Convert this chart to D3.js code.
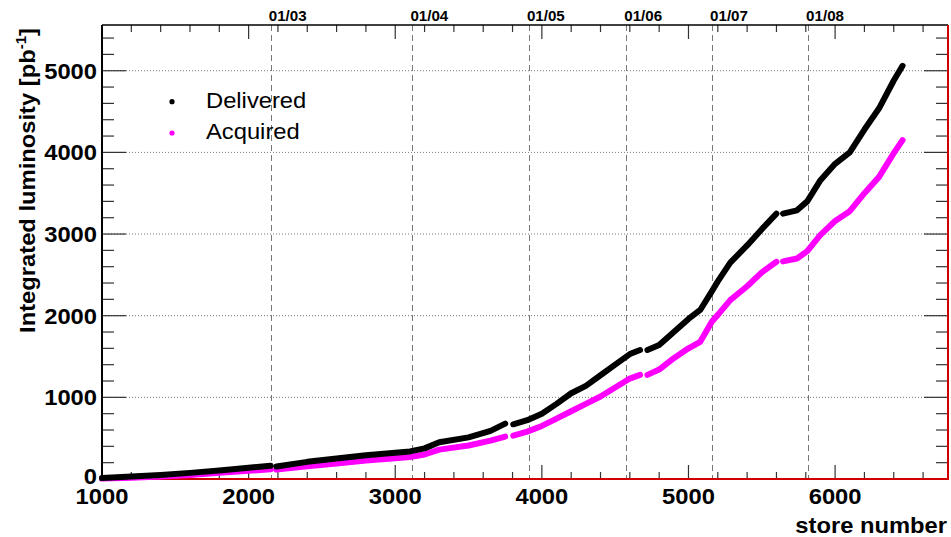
<!DOCTYPE html>
<html><head><meta charset="utf-8">
<script src="https://cdn.jsdelivr.net/npm/d3@7"></script>
<style>html,body{margin:0;padding:0;background:#fff;}svg{display:block;}</style>
</head><body>
<svg id="c" width="951" height="537"></svg>
<script>
// ---- data ----
const stores    = [1000,1200,1400,1600,1800,2000,2150,2170,2190,2400,2600,2800,3000,3100,3200,3300,3500,3650,3750,3780,3805,3900,4000,4100,4200,4300,4400,4500,4600,4670,4695,4720,4800,4900,5000,5080,5160,5200,5285,5400,5500,5600,5622,5645,5740,5810,5900,6000,6100,6200,6300,6400,6460];
const delivered = [12,30,50,75,105,138,163,null,152,210,252,292,322,338,375,450,510,590,678,null,670,720,800,920,1050,1140,1270,1400,1530,1580,null,1580,1640,1800,1960,2070,2300,2420,2650,2860,3060,3250,null,3250,3290,3400,3660,3860,4000,4280,4540,4880,5060];
const acquired  = [5,15,30,50,75,100,118,null,115,155,190,225,255,270,300,360,410,470,520,null,530,580,650,740,830,920,1010,1120,1230,1275,null,1275,1340,1480,1600,1680,1930,2010,2190,2360,2530,2660,null,2665,2700,2790,2990,3160,3280,3500,3700,3990,4150];
const dateLabels = ["01/03","01/04","01/05","01/06","01/07","01/08"];
const dateStores = [2151,3117,3912,4576,5161,5816];
const yTicks = [0,1000,2000,3000,4000,5000];
const xTicks = [1000,2000,3000,4000,5000,6000];
const seriesNames = ["Delivered","Acquired"];
const seriesColors = ["#000000","#ff00ff"];

const svg = d3.select("#c");
const L=102, R=948, T=25, B=479;
const x = d3.scaleLinear().domain([1000,6770]).range([L,R]);
const y = d3.scaleLinear().domain([0,5560]).range([B,T]);
const FONT = "'Liberation Sans', Arial, Helvetica, sans-serif";
const SX = 1.08;

function txt(g, s, px, py, opts){
  const t = g.append("text")
    .attr("transform", `translate(${px},${py})` + (opts.rotate?` rotate(${opts.rotate})`:"") + ` scale(${SX},1)`)
    .attr("font-family", FONT)
    .attr("font-size", opts.size)
    .attr("font-weight", opts.bold?"bold":"normal")
    .attr("text-anchor", opts.anchor||"start")
    .attr("fill", "#000")
    .text(s);
  return t;
}

// grid
const grid = svg.append("g");
grid.selectAll("line.h").data(yTicks.filter(d=>d>0)).enter().append("line")
  .attr("x1",L).attr("x2",R).attr("y1",d=>y(d)).attr("y2",d=>y(d))
  .attr("stroke","#777").attr("stroke-width",1).attr("stroke-dasharray","1,2");
grid.selectAll("line.v").data(dateStores).enter().append("line")
  .attr("x1",d=>Math.round(x(d))+0.5).attr("x2",d=>Math.round(x(d))+0.5).attr("y1",T).attr("y2",B)
  .attr("stroke","#777").attr("stroke-width",1).attr("stroke-dasharray","6,4");

// ticks
const ax = svg.append("g").attr("stroke","#333").attr("stroke-width",1.2);
const yMinor = d3.range(0,5561,200);
const xMinor = d3.range(1000,6771,200);
yMinor.forEach(v=>{
  const major = v%1000===0;
  const len = major?24:12;
  ax.append("line").attr("x1",L).attr("x2",L+len).attr("y1",y(v)).attr("y2",y(v));
  ax.append("line").attr("x1",R).attr("x2",R-len).attr("y1",y(v)).attr("y2",y(v));
});
xMinor.forEach(v=>{
  const major = v%1000===0;
  const len = major?14:7;
  ax.append("line").attr("x1",x(v)).attr("x2",x(v)).attr("y1",B).attr("y2",B-len);
  ax.append("line").attr("x1",x(v)).attr("x2",x(v)).attr("y1",T).attr("y2",T+len);
});

// frame
svg.append("line").attr("x1",L).attr("x2",L).attr("y1",T).attr("y2",B).attr("stroke","#000").attr("stroke-width",2);
svg.append("line").attr("x1",L).attr("x2",R).attr("y1",T).attr("y2",T).attr("stroke","#000").attr("stroke-width",1.5);
svg.append("line").attr("x1",L).attr("x2",R+1).attr("y1",B).attr("y2",B).attr("stroke","#d00000").attr("stroke-width",2);
svg.append("line").attr("x1",R).attr("x2",R).attr("y1",T).attr("y2",B).attr("stroke","#d00000").attr("stroke-width",2);

// series
const series = [delivered, acquired];
const line = d3.line().defined(d=>d[1]!==null).x(d=>x(d[0])).y(d=>y(d[1]));
[1,0].forEach(i=>{
  svg.append("path").datum(stores.map((s,k)=>[s,series[i][k]]))
    .attr("d", line).attr("fill","none").attr("stroke",seriesColors[i])
    .attr("stroke-width",6).attr("stroke-linecap","round").attr("stroke-linejoin","round");
});

// axis labels
const lab = svg.append("g");
yTicks.forEach(v=>txt(lab, String(v), 97, y(v)+(v===0?5:8), {size:22,bold:true,anchor:"end"}));
xTicks.forEach(v=>txt(lab, String(v), x(v), 504, {size:22,bold:true,anchor:"middle"}));
dateLabels.forEach((s,i)=>txt(lab, s, x(dateStores[i])-2, 21, {size:14,bold:true,anchor:"start"}));
txt(lab, "store number", 947, 533, {size:22,bold:true,anchor:"end"});

// y title with superscript
const yt = lab.append("text")
  .attr("transform", `translate(35,28) rotate(-90) scale(${SX},1)`)
  .attr("font-family", FONT).attr("font-size",22).attr("font-weight","bold").attr("text-anchor","end");
yt.append("tspan").text("Integrated luminosity [pb");
yt.append("tspan").attr("font-size",14).attr("dy",-9).text("-1");
yt.append("tspan").attr("dy",9).text("]");

// legend
const leg = svg.append("g");
seriesNames.forEach((n,i)=>{
  const ly = [101.7,133][i];
  leg.append("circle").attr("cx",172).attr("cy",ly).attr("r",2.6).attr("fill",seriesColors[i]);
  txt(leg, n, 206, ly+6, {size:22,bold:false,anchor:"start"});
});
</script>
</body></html>
